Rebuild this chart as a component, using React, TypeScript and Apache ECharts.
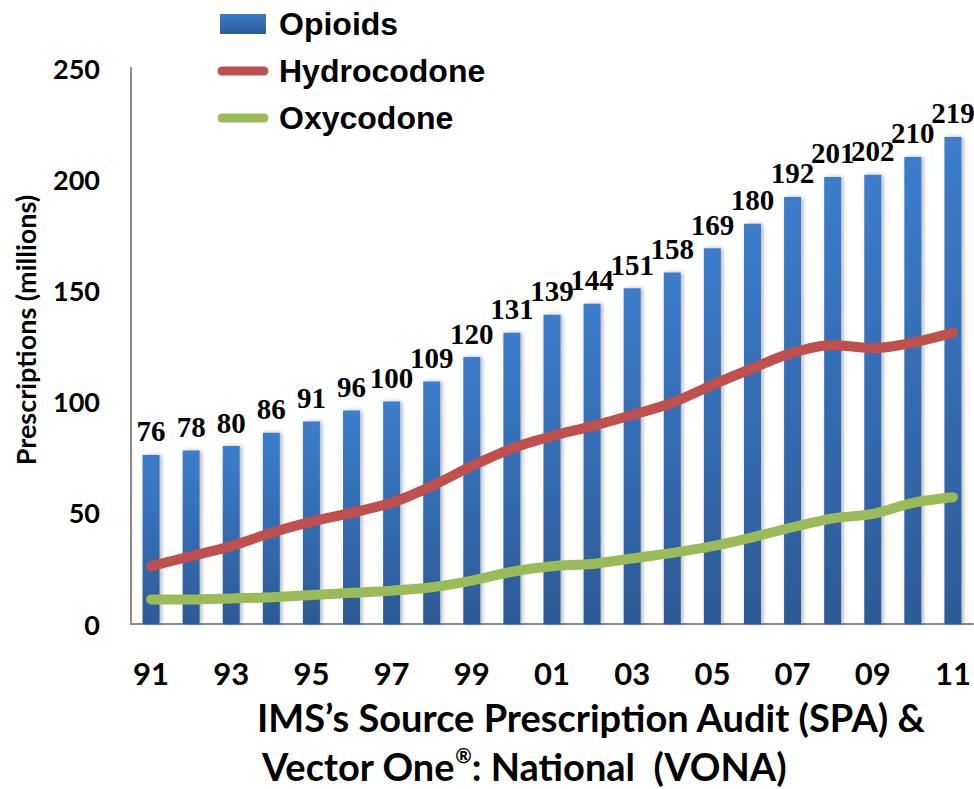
import React, { useEffect, useRef } from "react";
import * as echarts from "echarts";

const years = ["91","92","93","94","95","96","97","98","99","00","01","02","03","04","05","06","07","08","09","10","11"];
const opioids = [76,78,80,86,91,96,100,109,120,131,139,144,151,158,169,180,192,201,202,210,219];
const hydrocodone = [26,30.5,35,41,46,50,54.5,62,71,79,84.5,89,94,99.5,107.5,115,122,125.5,124,126.5,131];
const oxycodone = [11,11,11.5,12,13,14,15,16.5,19.5,23.5,26,27,29.5,32,35,39,43.5,47.5,49.5,54.5,57];
const yTicks = [0,50,100,150,200,250];

const SANS = "Lato, 'Open Sans', sans-serif";
const ARIAL = "'Liberation Sans', Arial, sans-serif";
const SERIF = "'Liberation Serif', 'Times New Roman', serif";

export default function App() {
  const ref = useRef<HTMLDivElement>(null);
  useEffect(() => {
    if (!ref.current) return;
    const chart = echarts.init(ref.current, null, { renderer: "svg" });
    const barGrad = new echarts.graphic.LinearGradient(0, 0, 0, 1, [
      { offset: 0, color: "#3C7DCC" },
      { offset: 1, color: "#2C5B96" },
    ]);
    chart.setOption({
      animation: false,
      backgroundColor: "#ffffff",
      grid: { left: 131, right: 1, top: 68, bottom: 165 },
      xAxis: {
        type: "category",
        data: years,
        axisLine: { show: true, lineStyle: { color: "#8c8c8c", width: 2 } },
        axisTick: { show: false },
        axisLabel: {
          interval: 1,
          margin: 33,
          fontFamily: SANS,
          fontWeight: "bold",
          fontSize: 31,
          color: "#000",
        },
      },
      yAxis: {
        type: "value",
        min: yTicks[0],
        max: yTicks[yTicks.length - 1],
        interval: 50,
        splitLine: { show: false },
        axisLine: { show: true, lineStyle: { color: "#8c8c8c", width: 2 } },
        axisTick: { show: false },
        axisLabel: {
          margin: 31,
          fontFamily: SANS,
          fontWeight: "bold",
          fontSize: 27,
          color: "#000",
        },
      },
      series: [
        {
          name: "Opioids",
          type: "bar",
          data: opioids,
          barWidth: 17,
          itemStyle: {
            color: barGrad,
            shadowColor: "rgba(0,0,0,0.3)",
            shadowBlur: 4,
            shadowOffsetX: 2,
          },
          label: {
            show: true,
            position: "top",
            distance: 9,
            fontFamily: SERIF,
            fontWeight: "bold",
            fontSize: 29,
            color: "#000",
          },
          z: 1,
        },
        {
          name: "Hydrocodone",
          type: "line",
          data: hydrocodone,
          smooth: 0.3,
          showSymbol: false,
          lineStyle: { color: "#C0504D", width: 10, cap: "round", join: "round" },
          z: 3,
        },
        {
          name: "Oxycodone",
          type: "line",
          data: oxycodone,
          smooth: 0.3,
          showSymbol: false,
          lineStyle: { color: "#9BBB59", width: 10, cap: "round", join: "round" },
          z: 3,
        },
      ],
      graphic: [
        { type: "rect", shape: { x: 220, y: 14, width: 46, height: 20 },
          style: { fill: new echarts.graphic.LinearGradient(0, 0, 0, 1, [
            { offset: 0, color: "#3C7DCC" }, { offset: 1, color: "#2C5B96" }]) } },
        { type: "line", shape: { x1: 222, y1: 71, x2: 264, y2: 71 },
          style: { stroke: "#C0504D", lineWidth: 9, lineCap: "round" } },
        { type: "line", shape: { x1: 222, y1: 118, x2: 264, y2: 118 },
          style: { stroke: "#9BBB59", lineWidth: 9, lineCap: "round" } },
        { type: "text", x: 279, y: 24, style: { text: "Opioids", font: `bold 32px ${ARIAL}`, fill: "#000", verticalAlign: "middle" } },
        { type: "text", x: 279, y: 71, style: { text: "Hydrocodone", font: `bold 32px ${ARIAL}`, fill: "#000", verticalAlign: "middle" } },
        { type: "text", x: 279, y: 118, style: { text: "Oxycodone", font: `bold 32px ${ARIAL}`, fill: "#000", verticalAlign: "middle" } },
        { type: "text", x: 25, y: 330, rotation: Math.PI / 2,
          style: { text: "Prescriptions (millions)", font: `bold 27px ${SANS}`, fill: "#000", align: "center", verticalAlign: "middle" } },
        { type: "text", x: 257, y: 717,
          style: { text: "IMS\u2019s Source Prescription Audit (SPA) &", font: `bold 38px ${SANS}`, fill: "#000", verticalAlign: "middle" } },
        { type: "text", x: 262, y: 765,
          style: {
            text: "{a|Vector One}{s|\u00AE}{a|: National  (VONA)}",
            fill: "#000",
            verticalAlign: "middle",
            rich: {
              a: { fontFamily: SANS, fontWeight: "bold", fontSize: 38, fill: "#000", verticalAlign: "bottom", lineHeight: 40 },
              s: { fontFamily: SANS, fontWeight: "bold", fontSize: 20, fill: "#000", verticalAlign: "top", lineHeight: 40 },
            },
          } },
      ],
    });
    return () => chart.dispose();
  }, []);
  return <div ref={ref} style={{ width: 974, height: 789, position: "absolute", left: 0, top: 0 }} />;
}
